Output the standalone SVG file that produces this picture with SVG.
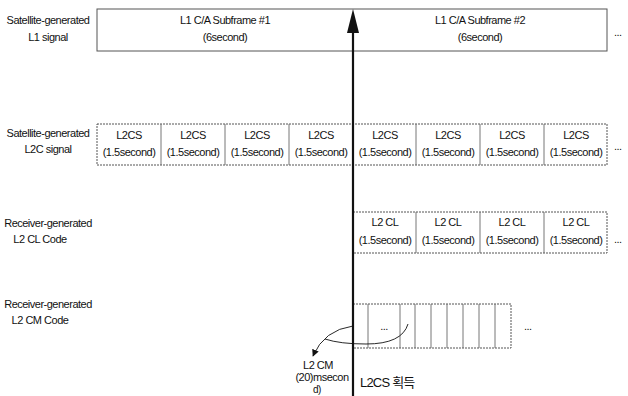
<svg xmlns="http://www.w3.org/2000/svg" width="628" height="396" viewBox="0 0 628 396">
<defs>
<style>
text{font-family:"Liberation Sans","DejaVu Sans","Noto Sans CJK KR",sans-serif;font-size:11px;fill:#111;letter-spacing:-0.5px}
.c{text-anchor:middle}
.box{fill:#fff;stroke:#555;stroke-width:1}
.dot{fill:#fff;stroke:#555;stroke-width:1;stroke-dasharray:2 1}
.thin{fill:none;stroke:#666;stroke-width:0.9}
.conn{fill:none;stroke:#111}
</style>
<marker id="ah" viewBox="0 0 10 10" refX="9" refY="5" markerWidth="7" markerHeight="7" orient="auto" markerUnits="userSpaceOnUse">
<path d="M0,0 L10,5 L0,10 z" fill="#111"/>
</marker>
</defs>
<rect width="628" height="396" fill="#fff"/>

<g id="label-l1">
<text class="c" x="48" y="24">Satellite-generated</text>
<text class="c" x="48" y="41">L1 signal</text>
</g>
<g id="l1-signal">
<rect class="box" x="97" y="9" width="510" height="42"/>
<text class="c" x="225" y="24">L1 C/A Subframe #1</text>
<text class="c" x="225" y="41">(6second)</text>
<text class="c" x="480" y="24">L1 C/A Subframe #2</text>
<text class="c" x="480" y="41">(6second)</text>
<text x="614" y="36">...</text>
</g>

<g id="label-l2c">
<text class="c" x="48" y="137">Satellite-generated</text>
<text class="c" x="48" y="153">L2C signal</text>
</g>
<g id="l2c-signal">
<rect class="dot" x="97" y="124" width="510" height="41"/>
<path class="thin" d="M161,124V165M225,124V165M289,124V165M353,124V165M416,124V165M480,124V165M544,124V165"/>
<text class="c" x="129" y="139">L2CS</text><text class="c" x="129" y="156">(1.5second)</text>
<text class="c" x="193" y="139">L2CS</text><text class="c" x="193" y="156">(1.5second)</text>
<text class="c" x="257" y="139">L2CS</text><text class="c" x="257" y="156">(1.5second)</text>
<text class="c" x="321" y="139">L2CS</text><text class="c" x="321" y="156">(1.5second)</text>
<text class="c" x="385" y="139">L2CS</text><text class="c" x="385" y="156">(1.5second)</text>
<text class="c" x="448" y="139">L2CS</text><text class="c" x="448" y="156">(1.5second)</text>
<text class="c" x="512" y="139">L2CS</text><text class="c" x="512" y="156">(1.5second)</text>
<text class="c" x="576" y="139">L2CS</text><text class="c" x="576" y="156">(1.5second)</text>
<text x="614" y="150">...</text>
</g>

<g id="label-l2cl">
<text class="c" x="48" y="227">Receiver-generated</text>
<text class="c" x="40" y="243">L2 CL Code</text>
</g>
<g id="l2cl-code">
<rect class="dot" x="353" y="212" width="254" height="41"/>
<path class="thin" d="M416,212V253M480,212V253M544,212V253"/>
<text class="c" x="385" y="226">L2 CL</text><text class="c" x="385" y="244">(1.5second)</text>
<text class="c" x="448" y="226">L2 CL</text><text class="c" x="448" y="244">(1.5second)</text>
<text class="c" x="512" y="226">L2 CL</text><text class="c" x="512" y="244">(1.5second)</text>
<text class="c" x="576" y="226">L2 CL</text><text class="c" x="576" y="244">(1.5second)</text>
<text x="614" y="243">...</text>
</g>

<g id="label-l2cm">
<text class="c" x="48" y="308">Receiver-generated</text>
<text class="c" x="40" y="324">L2 CM Code</text>
</g>
<g id="l2cm-code">
<rect class="dot" x="353" y="304" width="158" height="44"/>
<path class="thin" d="M368,304V348M400,304V348M415,304V348M431,304V348M447,304V348M463,304V348M479,304V348M495,304V348"/>
<text class="c" x="384" y="330">...</text>
<text x="524" y="330">...</text>
</g>

<g id="l2cm-note">
<text class="c" x="318" y="369">L2 CM</text>
<text class="c" x="322" y="381">(20)msecon</text>
<text class="c" x="317" y="393" style="font-size:10px">d)</text>
</g>

<g id="acquisition-label">
<text x="360" y="387" style="font-size:13px;letter-spacing:-0.8px">L2CS 획득</text>
</g>

<g id="connectors">
<line class="conn" x1="353" y1="396" x2="353" y2="30" stroke-width="2.2"/>
<path d="M353,9 L347,33 L359,33 z" fill="#111"/>
<path class="conn" stroke-width="0.9" d="M408,324 Q402,344 366,344 Q340,344 325,339"/>
<path class="conn" stroke-width="0.9" d="M353,326 Q324,330 313,356" marker-end="url(#ah)"/>
</g>
</svg>
